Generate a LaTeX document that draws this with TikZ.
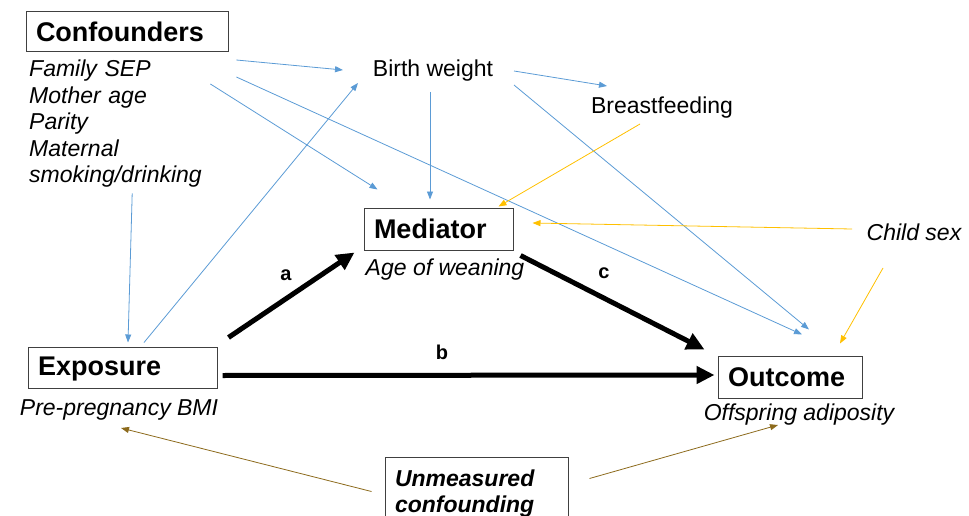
\documentclass[tikz,border=0pt]{standalone}
\usepackage{fontspec}
\setmainfont{Liberation Sans}
\usetikzlibrary{arrows.meta}
\definecolor{arrowblue}{HTML}{5B9BD5}
\definecolor{arroworange}{HTML}{FFC000}
\definecolor{arrowbrown}{HTML}{8C6A1C}

\begin{document}
\begin{tikzpicture}[
  x=1pt, y=-1pt,
  box/.style={draw=black!75, line width=1pt, inner xsep=10pt, inner ysep=0pt, align=left,
    font=\fontsize{27}{30}\selectfont\bfseries},
  txt/.style={inner sep=0pt, font=\fontsize{23}{26.5}\selectfont},
  note/.style={txt, font=\fontsize{23}{26.5}\selectfont\itshape},
  lbl/.style={inner sep=0pt, font=\fontsize{20}{24}\selectfont\bfseries},
  main/.style={line width=5pt, -{Triangle[length=18pt,width=17pt]}},
  to/.style={arrowblue, line width=0.8pt, -{Triangle[length=8pt,width=6pt]}},
  sexto/.style={to, arroworange},
  hidden/.style={to, arrowbrown}]

  \clip (0,0) rectangle (969,516);

  % Variables
  \node[box, text width=182pt, minimum height=40pt] (conf) at (127,32) {Confounders};
  \node[note, text width=185pt, align=left, anchor=north west] (conflist) at (29,60)
    {Family SEP\\Mother age\\Parity\\Maternal\\smoking/drinking};
  \node[txt] (bw) at (433,71) {Birth weight};
  \node[txt] (bf) at (662,108) {Breastfeeding};
  \node[box, text width=129pt, minimum height=42pt] (med) at (438.5,229) {Mediator};
  \node[note] (agew) at (445,270) {Age of weaning};
  \node[note] (sex) at (914,232) {Child sex};
  \node[box, text width=169pt, minimum height=41pt, text depth=3pt] (expo) at (122.5,367.5) {Exposure};
  \node[note] (pbmi) at (119,410) {Pre-pregnancy BMI};
  \node[box, text width=124pt, minimum height=42pt] (outc) at (790,377) {Outcome};
  \node[note] (offa) at (799,415) {Offspring adiposity};
  \node[box, text width=163pt, minimum height=72pt, anchor=north,
    font=\fontsize{23}{26}\selectfont\bfseries\itshape] (unm) at (476.5,457) {Unmeasured\\confounding};

  % Path labels
  \node[lbl] (la) at (286,275) {a};
  \node[lbl] (lb) at (442,352) {b};
  \node[lbl] (lc) at (604,273) {c};

  % Main paths
  \draw[main] ([shift={(11,-9)}]expo.north east) -- ([shift={(-9,2)}]med.south west);
  \draw[main] ([shift={(7,5)}]med.south east) -- ([shift={(-13,-6)}]outc.north west);
  \draw[main] ([shift={(5,8)}]expo.east) -- ([shift={(-3,-2)}]outc.west);

  % Confounders and covariates
  \draw[to] ([shift={(22,0)}]conflist.north east) -- ([shift={(-90,-1)}]bw.center);
  \draw[to] ([shift={(-4,24)}]conflist.north east) -- ([shift={(14,-18)}]med.north west);
  \draw[to] ([shift={(22,17)}]conflist.north east) -- ([shift={(12,-21)}]outc.north);
  \draw[to] ([shift={(10.5,5.5)}]conflist.south) -- ([shift={(5.5,-4)}]expo.north);
  \draw[to] ([shift={(21.5,-4)}]expo.north) -- ([shift={(-75,12)}]bw.center);
  \draw[to] ([shift={(81,0)}]bw.center) -- ([shift={(-55,-22)}]bf.center);
  \draw[to] ([shift={(-3,21)}]bw.center) -- ([shift={(-8.5,-8)}]med.north);
  \draw[to] ([shift={(81,14)}]bw.center) -- ([shift={(19,-26)}]outc.north);
  \draw[sexto] ([shift={(-22,16)}]bf.center) -- ([shift={(-15,-1)}]med.north east);
  \draw[sexto] ([shift={(-62,-3)}]sex.center) -- ([shift={(19,-6)}]med.east);
  \draw[sexto] ([shift={(-31,36)}]sex.center) -- ([shift={(50,-12)}]outc.north);
  \draw[hidden] ([shift={(-13,-2)}]unm.west) -- ([shift={(2,18)}]pbmi.center);
  \draw[hidden] ([shift={(21,-15)}]unm.east) -- ([shift={(-21,10)}]offa.center);

\end{tikzpicture}
\end{document}
